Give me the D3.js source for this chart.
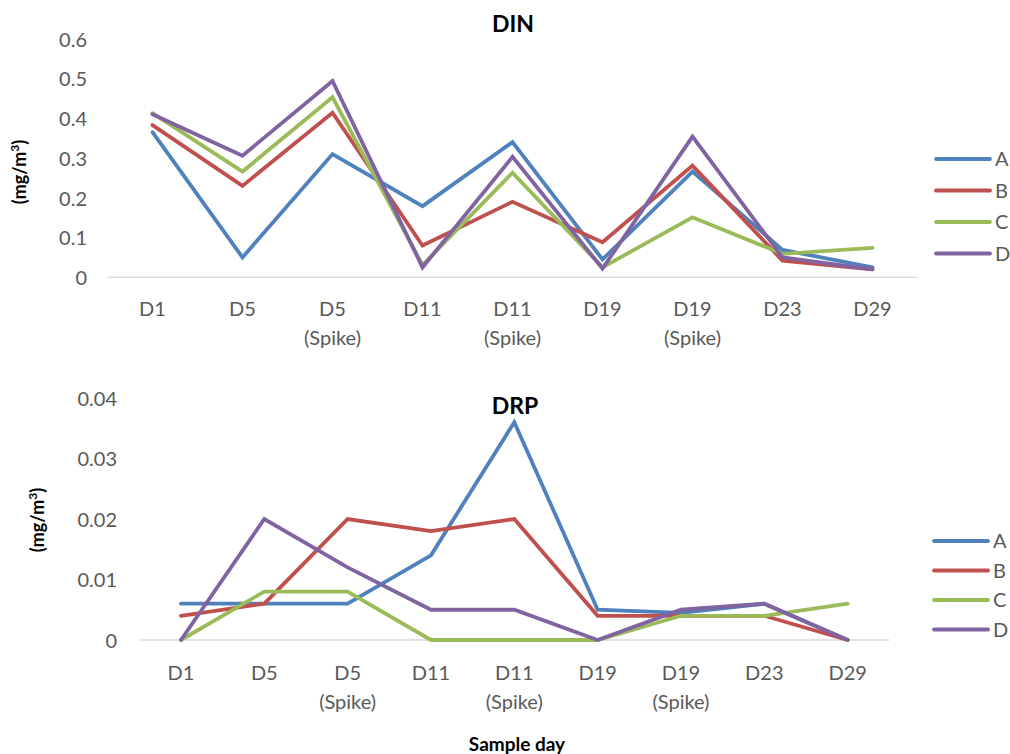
<!DOCTYPE html>
<html><head><meta charset="utf-8">
<script src="https://cdn.jsdelivr.net/npm/d3@7"></script>
<style>body{margin:0;background:#fff}svg{display:block}</style>
</head><body>
<svg id="c" width="1010" height="754"></svg>
<script>
const categories = ["D1","D5","D5\n(Spike)","D11","D11\n(Spike)","D19","D19\n(Spike)","D23","D29"];
const seriesNames = ["A","B","C","D"];
const colors = ["#4F81BD","#C0504D","#9BBB59","#8064A2"];
const dinA = [0.365,0.05,0.31,0.179,0.34,0.045,0.266,0.069,0.025];
const dinB = [0.383,0.23,0.414,0.08,0.19,0.088,0.281,0.042,0.02];
const dinC = [0.413,0.266,0.453,0.031,0.263,0.025,0.151,0.059,0.074];
const dinD = [0.41,0.306,0.494,0.025,0.303,0.022,0.354,0.05,0.02];
const drpA = [0.006,0.006,0.006,0.014,0.036,0.005,0.0045,0.006,0];
const drpB = [0.004,0.006,0.02,0.018,0.02,0.004,0.004,0.004,0];
const drpC = [0,0.008,0.008,0,0,0,0.004,0.004,0.006];
const drpD = [0,0.02,0.012,0.005,0.005,0,0.005,0.006,0];
const dinTicks = [0,0.1,0.2,0.3,0.4,0.5,0.6];
const drpTicks = [0,0.01,0.02,0.03,0.04];

const svg = d3.select("#c");
const FONT = "Lato, 'Open Sans', sans-serif";
const FS = 20;

function panel(cfg){
  const g = svg.append("g");
  const x = d3.scaleBand().domain(categories).range([cfg.x0, cfg.x1]);
  const y = d3.scaleLinear().domain([0, cfg.ymax]).range([cfg.y0, cfg.y1]);
  g.append("line").attr("x1", cfg.x0).attr("x2", cfg.x1)
    .attr("y1", y(0)).attr("y2", y(0)).attr("stroke", "#d9d9d9").attr("stroke-width", 1.3);
  const yAxis = g.append("g").attr("transform", `translate(${cfg.tickX},0)`)
    .call(d3.axisLeft(y).tickValues(cfg.ticks).tickSize(0).tickPadding(0).tickFormat(d => d3.format("")(+d.toFixed(3))));
  yAxis.select(".domain").remove();
  yAxis.selectAll("text").attr("font-family", FONT).attr("font-size", FS).attr("fill", "#595959").attr("dy","0.36em");
  categories.forEach(c => {
    const lines = c.split("\n");
    const cx = x(c) + x.bandwidth()/2;
    const t = g.append("text").attr("x", cx).attr("y", cfg.catY)
      .attr("text-anchor","middle").attr("font-family", FONT).attr("font-size", FS).attr("fill","#595959");
    lines.forEach((l,i) => t.append("tspan").attr("x", cx).attr("dy", i ? 29 : 0).text(l));
  });
  const line = d3.line().x((d,i) => x(categories[i]) + x.bandwidth()/2).y(d => y(d));
  cfg.data.forEach((s,k) => {
    g.append("path").datum(s).attr("d", line).attr("fill","none")
      .attr("stroke", colors[k]).attr("stroke-width", 3.8).attr("stroke-linejoin","miter").attr("stroke-linecap","round");
  });
  g.append("text").attr("x", cfg.titleX).attr("y", cfg.titleY).attr("text-anchor","middle")
    .attr("font-family", FONT).attr("font-weight","bold").attr("font-size", 23).attr("fill","#000").text(cfg.title);
  const yt = g.append("text").attr("transform", `translate(${cfg.ytX},${cfg.ytY}) rotate(-90)`)
    .attr("text-anchor","middle").attr("font-family", FONT).attr("font-weight","bold").attr("font-size", 18).attr("fill","#000");
  yt.append("tspan").text("(mg/m");
  yt.append("tspan").attr("font-size", 12).attr("dy", -7).text("3");
  yt.append("tspan").attr("dy", 7).text(")");
  seriesNames.forEach((n,k) => {
    const ly = cfg.legY + k*cfg.legStep;
    g.append("line").attr("x1", cfg.legX).attr("x2", cfg.legX + 54).attr("y1", ly).attr("y2", ly)
      .attr("stroke", colors[k]).attr("stroke-width", 3.8).attr("stroke-linecap","round");
    g.append("text").attr("x", cfg.legX + 59).attr("y", ly).attr("dy","0.36em")
      .attr("font-family", FONT).attr("font-size", FS).attr("fill","#595959").text(n);
  });
}

panel({x0:107.5, x1:917.5, y0:277.3, y1:38.8, ymax:0.6, ticks:dinTicks, tickX:87, catY:316,
  data:[dinA,dinB,dinC,dinD], title:"DIN", titleX:513, titleY:32, ytX:26, ytY:172,
  legX:936, legY:159, legStep:31.5});
panel({x0:139.3, x1:889.3, y0:640, y1:398, ymax:0.04, ticks:drpTicks, tickX:117, catY:680,
  data:[drpA,drpB,drpC,drpD], title:"DRP", titleX:515, titleY:414, ytX:44, ytY:520,
  legX:934, legY:541, legStep:29.5});

svg.append("text").attr("x", 517).attr("y", 751).attr("text-anchor","middle")
  .attr("font-family", FONT).attr("font-weight","bold").attr("font-size", 19).text("Sample day");
</script>
</body></html>
